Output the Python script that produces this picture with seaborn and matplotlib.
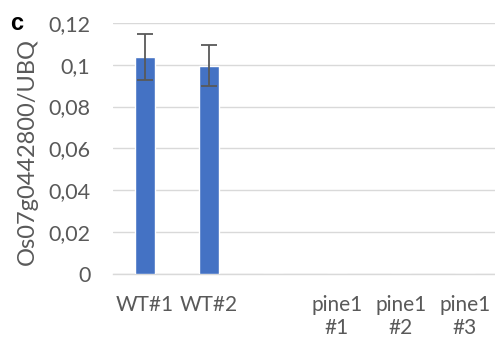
import matplotlib
matplotlib.use("Agg")
import matplotlib.pyplot as plt
import seaborn as sns
import pandas as pd
from matplotlib.ticker import FuncFormatter, MultipleLocator

categories = ["WT#1", "WT#2", " ", "pine1\n#1", "pine1\n#2", "pine1\n#3"]
values = [0.1035, 0.0995, 0.0, 0.0, 0.0, 0.0]
errors = [0.011, 0.0098, 0.0, 0.0, 0.0, 0.0]
ylabel = "Os07g0442800/UBQ"
panel = "c"

sns.set_theme(style="white")
plt.rcParams["font.family"] = ["Lato", "DejaVu Sans"]

df = pd.DataFrame({"cat": categories, "val": values, "err": errors})

fig = plt.figure(figsize=(4.95, 3.42), dpi=100)
ax = fig.add_axes([0.2277, 0.198, 0.7723, 0.7356])

sns.barplot(data=df, x="cat", y="val", color="#4472C4", saturation=1,
            width=0.31, ax=ax, errorbar=None, zorder=3)

xs = range(len(categories))
for x, v, e in zip(xs, values, errors):
    if e > 0:
        ax.errorbar(x, v, yerr=e, fmt="none", ecolor="#595959",
                    elinewidth=1.3, capsize=6, capthick=1.3, zorder=4)

ax.set_ylim(0, 0.12)
ax.set_xlim(-0.5, 5.47)
ax.yaxis.set_major_locator(MultipleLocator(0.02))
ax.yaxis.set_major_formatter(FuncFormatter(
    lambda v, p: "0" if abs(v) < 1e-9 else f"{v:.2f}".rstrip("0").replace(".", ",")))
ax.grid(axis="y", color="#D9D9D9", linewidth=1, zorder=0)
ax.set_axisbelow(True)
for s in ["top", "right", "left"]:
    ax.spines[s].set_visible(False)
ax.spines["bottom"].set_color("#D9D9D9")
ax.spines["bottom"].set_linewidth(1)

ax.tick_params(axis="y", length=0, pad=16, labelsize=15.5, labelcolor="#595959")
ax.tick_params(axis="x", length=0, pad=15, labelsize=15, labelcolor="#595959")
ax.set_xlabel("")
ax.set_ylabel(ylabel, fontsize=17, color="#595959")
ax.yaxis.set_label_coords(-0.195, 0.488)

fig.text(0.02, 0.965, panel, fontsize=17, fontweight="bold", color="black",
         family="Liberation Sans", va="top", ha="left")

fig.savefig("out.png", dpi=100)
